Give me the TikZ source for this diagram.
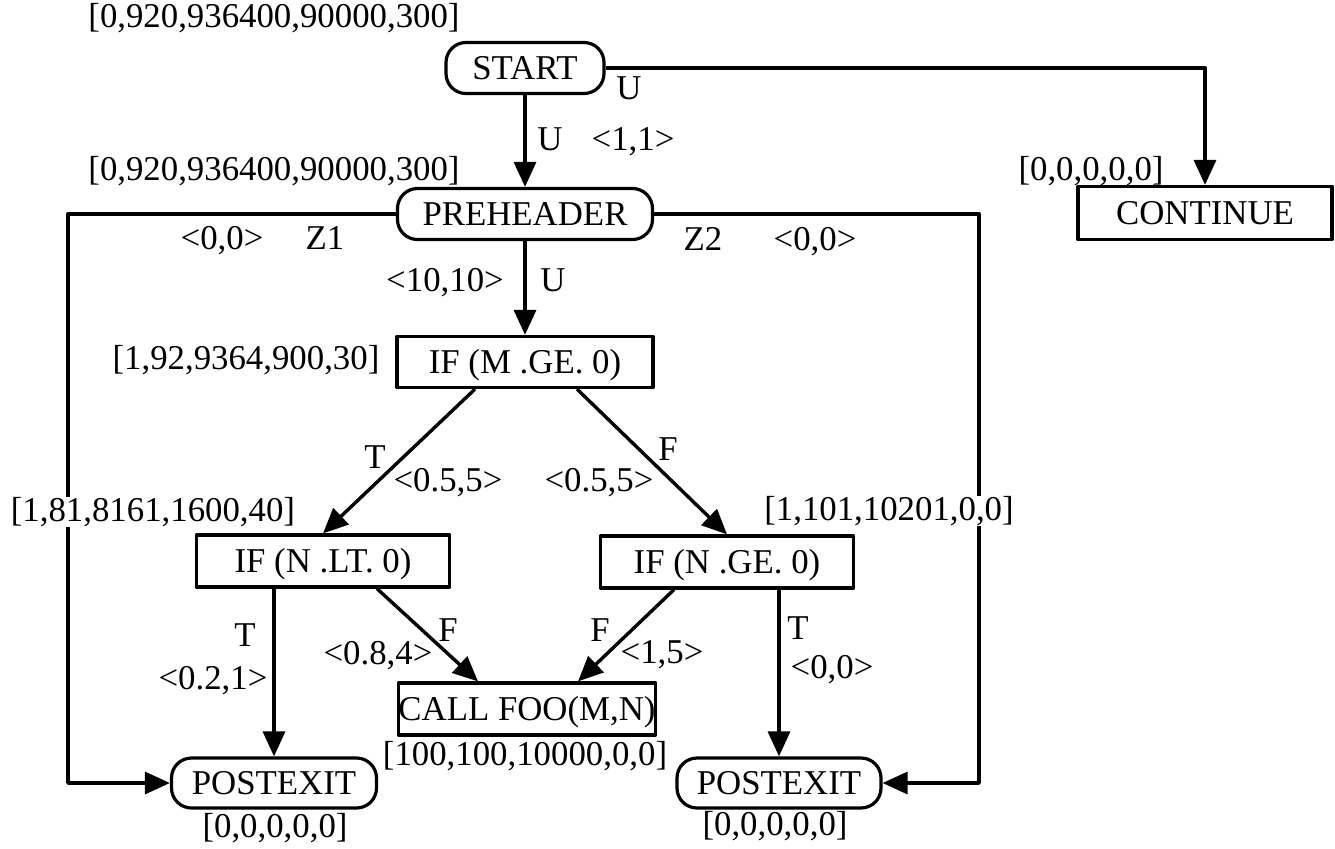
\documentclass[tikz,border=0pt]{standalone}
\usepackage{fontspec}
\setmainfont{Liberation Serif}
\usetikzlibrary{arrows.meta}
\tikzset{
  every picture/.style={line join=round, >={Triangle[length=12.5pt,width=11pt]}},
  term/.style={draw, line width=1.6pt, rounded corners=10pt, minimum height=25.5pt, inner sep=0pt, text height=11.5pt, text depth=0pt},
  stmt/.style={draw, line width=1.6pt, minimum height=26pt, inner sep=0pt, text height=11.5pt, text depth=0pt},
  lbl/.style={inner sep=0pt, text height=12pt, text depth=3pt},
  elbl/.style={inner sep=0pt, text height=11.5pt, text depth=0pt},
  flow/.style={->, line width=1.7pt},
}

\begin{document}
\begin{tikzpicture}[x=0.5pt,y=-0.5pt,font=\fontsize{17.4}{20}\selectfont]
\useasboundingbox (0,0) rectangle (1335,848);
% blocks
\node[term, minimum width=79pt] (start) at (525,68) {START};
\node[term, minimum width=127.5pt] (pre) at (525,214) {PREHEADER};
\node[stmt, minimum width=127pt, minimum height=26.5pt] (cont) at (1205,213) {CONTINUE};
\node[stmt, minimum width=128pt, minimum height=25.5pt] (ifm) at (525,362) {IF (M .GE. 0)};
\node[stmt, minimum width=126.5pt] (iflt) at (323,561) {IF (N .LT. 0)};
\node[stmt, minimum width=126.5pt] (ifge) at (727,562) {IF (N .GE. 0)};
\node[stmt, minimum width=127pt] (call) at (527,709) {CALL FOO(M,N)};
\node[term, minimum width=102.5pt, minimum height=25pt] (postl) at (274,783) {POSTEXIT};
\node[term, minimum width=102pt, minimum height=25pt] (postr) at (779,783) {POSTEXIT};
\coordinate (lx) at (68,0);
\coordinate (rx) at (979,0);
% edges
\draw[flow] (start) -- (pre);
\draw[flow] (start.east) -| (cont.north);
\draw[flow] (pre.west) -| (lx |- postl.west) -- (postl.west);
\draw[flow] (pre.east) -| (rx |- postr.east) -- (postr.east);
\draw[flow] (pre) -- (ifm);
\draw[flow] ([xshift=-25pt]ifm.south) -- (iflt.north);
\draw[flow] ([xshift=26pt]ifm.south) -- (ifge.north);
\draw[flow] (postl.north |- iflt.south) -- (postl.north);
\draw[flow] ([xshift=27pt]iflt.south) -- ([xshift=-24.5pt]call.north);
\draw[flow] ([xshift=-26.5pt]ifge.south) -- ([xshift=25.5pt]call.north);
\draw[flow] (postr.north |- ifge.south) -- (postr.north);
% weights
\node[lbl] (wstart) at (274,18) {[0,920,936400,90000,300]};
\node[lbl] (wpre) at (274,171) {[0,920,936400,90000,300]};
\node[lbl] (wcont) at (1091,171) {[0,0,0,0,0]};
\node[lbl] (wifm) at (246,360) {[1,92,9364,900,30]};
\node[lbl, fill=white] (wiflt) at (153,512) {[1,81,8161,1600,40]};
\node[lbl, fill=white] (wifge) at (889,511) {[1,101,10201,0,0]};
\node[lbl] (wcall) at (525,756) {[100,100,10000,0,0]};
\node[lbl] (wpostl) at (275,828) {[0,0,0,0,0]};
\node[lbl] (wpostr) at (775,826) {[0,0,0,0,0]};
% edge labels
\node[elbl] (ua) at (629,88) {U};
\node[elbl] (ub) at (550,139) {U};
\node[elbl] (pa) at (633,139) {<1,1>};
\node[elbl] (pz1) at (222,238) {<0,0>};
\node[elbl] (z1) at (325,238) {Z1};
\node[elbl] (z2) at (703,239) {Z2};
\node[elbl] (pz2) at (815,239) {<0,0>};
\node[elbl] (pu) at (445,280) {<10,10>};
\node[elbl] (uc) at (553,280) {U};
\node[elbl] (ta) at (375,457) {T};
\node[elbl] (pta) at (448,480) {<0.5,5>};
\node[elbl] (fa) at (668,449) {F};
\node[elbl] (pfa) at (599,480) {<0.5,5>};
\node[elbl] (tb) at (245,635) {T};
\node[elbl] (ptb) at (213,678) {<0.2,1>};
\node[elbl] (fb) at (448,630) {F};
\node[elbl] (pfb) at (378,653) {<0.8,4>};
\node[elbl] (fc) at (600,630) {F};
\node[elbl] (pfc) at (662,652) {<1,5>};
\node[elbl] (tc) at (798,628) {T};
\node[elbl] (ptc) at (832,667) {<0,0>};
\end{tikzpicture}
\end{document}
